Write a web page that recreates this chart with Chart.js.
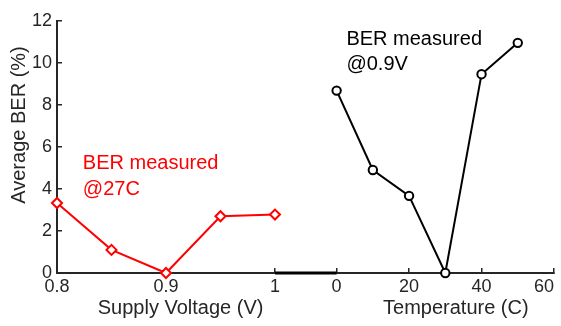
<!DOCTYPE html>
<html>
<head>
<meta charset="utf-8">
<script src="https://cdn.jsdelivr.net/npm/chart.js@4.4.1/dist/chart.umd.min.js"></script>
<style>
  html, body { margin: 0; padding: 0; background: #fff; }
  #wrap { width: 561px; height: 326px; }
</style>
</head>
<body>
<div id="wrap"><canvas id="berChart"></canvas></div>
<script>
// data
const voltage = [0.8, 0.85, 0.9, 0.95, 1.0];
const berVoltage = [3.33, 1.10, 0, 2.70, 2.78];
const temperature = [0, 10, 20, 30, 40, 50];
const berTemp = [8.68, 4.90, 3.67, 0, 9.46, 10.95];
const voltTicks = [0.8, 0.9, 1];
const tempTicks = [0, 20, 40, 60];

const axisColor = '#262626';
const font = 'Arial, "Liberation Sans", sans-serif';

// axis titles and notes, drawn after the chart
const notesPlugin = {
    id: 'notes',
    afterDraw(chart) {
        const {ctx, scales} = chart;
        const xv = scales.xv, xt = scales.xt, y = scales.y;
        ctx.save();
        ctx.font = '20px ' + font;
        ctx.textBaseline = 'alphabetic';

        // thick joint between the two axes
        ctx.strokeStyle = '#000';
        ctx.lineWidth = 3;
        ctx.beginPath();
        ctx.moveTo(xv.getPixelForValue(1), y.bottom);
        ctx.lineTo(xt.getPixelForValue(0), y.bottom);
        ctx.stroke();

        ctx.fillStyle = axisColor;
        ctx.textAlign = 'center';
        ctx.fillText('Supply Voltage (V)', xv.getPixelForValue(0.9134), 314);
        ctx.fillText('Temperature (C)', xt.getPixelForValue(32.9), 314);

        ctx.save();
        ctx.translate(25, 125);
        ctx.rotate(-Math.PI / 2);
        ctx.fillText('Average BER (%)', 0, 0);
        ctx.restore();

        ctx.textAlign = 'left';
        ctx.fillStyle = '#ff0000';
        ctx.fillText('BER measured', xv.getPixelForValue(0.8237), y.getPixelForValue(4.94));
        ctx.fillText('@27C', xv.getPixelForValue(0.8237), y.getPixelForValue(3.73));

        ctx.fillStyle = '#000';
        ctx.fillText('BER measured', xt.getPixelForValue(2.7), y.getPixelForValue(10.83));
        ctx.fillText('@0.9V', xt.getPixelForValue(2.7), y.getPixelForValue(9.66));
        ctx.restore();
    }
};

const tickGrid = {
    drawOnChartArea: false,
    tickLength: -5,
    lineWidth: 1.5,
    color: c => (c.tick && c.tick.value < 0 ? 'rgba(0,0,0,0)' : axisColor)
};

// fixed box for the bottom axes, no extra side padding
const fitBottom = s => {
    s.height = 53;
    s.paddingLeft = 0;
    s.paddingRight = 0;
};

const ctx = document.getElementById('berChart').getContext('2d');
new Chart(ctx, {
    type: 'scatter',
    data: {
        datasets: [{
            label: 'Supply Voltage',
            data: voltage.map((v, i) => ({x: v, y: berVoltage[i]})),
            xAxisID: 'xv',
            yAxisID: 'y',
            showLine: true,
            borderColor: '#ff0000',
            borderWidth: 2,
            pointStyle: 'rectRot',
            pointRadius: 5,
            pointBorderWidth: 2,
            pointBackgroundColor: '#fff',
            pointBorderColor: '#ff0000',
            clip: false
        }, {
            label: 'Temperature',
            data: temperature.map((t, i) => ({x: t, y: berTemp[i]})),
            xAxisID: 'xt',
            yAxisID: 'y',
            showLine: true,
            borderColor: '#000',
            borderWidth: 2,
            pointStyle: 'circle',
            pointRadius: 4.2,
            pointBorderWidth: 2,
            pointBackgroundColor: '#fff',
            pointBorderColor: '#000',
            clip: false
        }]
    },
    options: {
        responsive: true,
        maintainAspectRatio: false,
        animation: false,
        layout: { padding: { top: 15, right: -2, bottom: 0, left: 0 } },
        scales: {
            xv: {
                type: 'linear',
                position: 'bottom',
                stack: 'bottomAxes',
                stackWeight: 1,
                min: 0.8,
                max: 1.028,
                afterBuildTicks: s => {
                    s.ticks = voltTicks.map(v => ({value: v}));
                },
                afterFit: fitBottom,
                ticks: {
                    padding: 8.5,
                    color: axisColor,
                    font: { family: font, size: 18 },
                    callback: v => String(v)
                },
                grid: tickGrid,
                border: { color: axisColor, width: 2 }
            },
            xt: {
                type: 'linear',
                position: 'bottom',
                stack: 'bottomAxes',
                stackWeight: 1,
                min: -8.59,
                max: 60,
                afterBuildTicks: s => {
                    s.ticks = [s.min].concat(tempTicks).map(v => ({value: v}));
                },
                afterFit: fitBottom,
                ticks: {
                    align: 'inner',
                    padding: 8.5,
                    color: axisColor,
                    font: { family: font, size: 18 },
                    callback: v => (v < 0 ? '' : String(v))
                },
                grid: tickGrid,
                border: { color: axisColor, width: 2 }
            },
            y: {
                type: 'linear',
                position: 'left',
                min: 0,
                max: 12,
                afterFit: s => { s.width = 57; },
                ticks: {
                    stepSize: 2,
                    padding: 10,
                    color: axisColor,
                    font: { family: font, size: 18 }
                },
                grid: tickGrid,
                border: { color: axisColor, width: 2 }
            }
        },
        plugins: {
            legend: { display: false },
            tooltip: { enabled: false }
        }
    },
    plugins: [notesPlugin]
});
</script>
</body>
</html>
